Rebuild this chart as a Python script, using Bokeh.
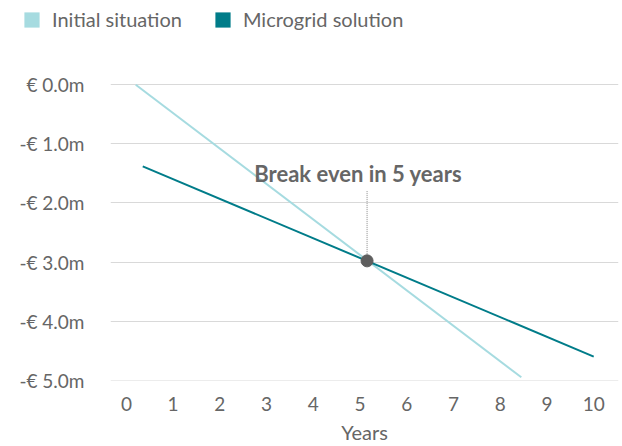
from bokeh.plotting import figure
from bokeh.layouts import column, row
from bokeh.models import Range1d, FixedTicker, Legend, LegendItem, ColumnDataSource
from bokeh.core.properties import value
from bokeh.embed import file_html
from bokeh.resources import INLINE

# Data
initial_years = [0.2, 8.45]
initial_values = [0.0, -4.95]
microgrid_years = [0.35, 10.0]
microgrid_values = [-1.38, -4.6]
breakeven_year = [5.15]
breakeven_value = [-2.98]
annotation_text = ["Break even in 5 years"]
annotation_x = [4.96]
annotation_y = [-1.5]
leader_top = [-1.8]
series_names = ["Initial situation", "Microgrid solution"]
x_ticks = list(range(0, 11))
y_ticks = [0, -1, -2, -3, -4, -5]
y_tick_labels = ["€ 0.0m", "-€ 1.0m", "-€ 2.0m", "-€ 3.0m", "-€ 4.0m", "-€ 5.0m"]

FONT = "Lato"
LIGHT = "#a6dbe0"
DARK = "#007c89"
TEXT = "#666666"

# ---- legend strip ----
lg = figure(width=622, height=40, output_backend="svg", toolbar_location=None,
            x_range=Range1d(0, 1), y_range=Range1d(0, 1),
            x_axis_type=None, y_axis_type=None,
            min_border_left=0, min_border_right=0, min_border_top=0, min_border_bottom=0)
lg.outline_line_color = None
lg.grid.visible = False
# swatch renderers kept outside the visible range: only their legend glyphs show
swatch_src = ColumnDataSource(dict(l=[5], r=[6], t=[6], b=[5]))
r1 = lg.quad(left="l", right="r", top="t", bottom="b", source=swatch_src, fill_color=LIGHT, line_color=None)
r2 = lg.quad(left="l", right="r", top="t", bottom="b", source=swatch_src, fill_color=DARK, line_color=None)
legend = Legend(items=[LegendItem(label=series_names[0], renderers=[r1]),
                       LegendItem(label=series_names[1], renderers=[r2])],
                orientation="horizontal", location=(22, 9),
                glyph_width=19, glyph_height=19, label_standoff=11, spacing=31,
                padding=0, margin=0, border_line_color=None, background_fill_alpha=0,
                label_text_font=FONT, label_text_font_size="20px", label_text_color=TEXT,
                label_height=15)
lg.add_layout(legend, "center")

# ---- main chart ----
p = figure(width=622, height=406, output_backend="svg", toolbar_location=None,
           x_range=Range1d(-0.34, 10.53), y_range=Range1d(-5.005, 0.75),
           min_border_left=110, min_border_right=4, min_border_top=0, min_border_bottom=64)
p.outline_line_color = None

p.line(initial_years, initial_values, line_color=LIGHT, line_width=2)
p.line(microgrid_years, microgrid_values, line_color=DARK, line_width=2)

p.segment(x0=breakeven_year, y0=leader_top, x1=breakeven_year, y1=breakeven_value,
          line_color="#888888", line_width=1, line_dash="1 1")
p.scatter(breakeven_year, breakeven_value, size=12, color="#5e5e5e")
p.text(x=annotation_x, y=annotation_y, text=annotation_text, text_align="center",
       text_baseline="middle", text_font=value(FONT), text_font_style="bold",
       text_font_size="22px", text_color="#666666")

p.xaxis.ticker = FixedTicker(ticks=x_ticks)
p.xaxis.axis_label = "Years"
p.xaxis.axis_line_color = None
p.xaxis.major_tick_line_color = None
p.xaxis.minor_tick_line_color = None
p.xaxis.major_tick_out = 0
p.xaxis.major_label_standoff = 16
p.xaxis.axis_label_standoff = 6
p.xaxis.major_label_text_line_height = 1.0
p.xaxis.axis_label_text_line_height = 1.0
p.xaxis.major_label_text_font = FONT
p.xaxis.major_label_text_font_size = "19px"
p.xaxis.major_label_text_color = TEXT
p.xaxis.axis_label_text_font = FONT
p.xaxis.axis_label_text_font_size = "20px"
p.xaxis.axis_label_text_font_style = "normal"
p.xaxis.axis_label_text_color = TEXT

p.yaxis.ticker = FixedTicker(ticks=y_ticks)
p.yaxis.major_label_overrides = {t: l for t, l in zip(y_ticks, y_tick_labels)}
p.yaxis.axis_line_color = None
p.yaxis.major_tick_line_color = None
p.yaxis.minor_tick_line_color = None
p.yaxis.major_tick_out = 0
p.yaxis.major_label_standoff = 26
p.yaxis.major_label_text_font = FONT
p.yaxis.major_label_text_font_size = "19px"
p.yaxis.major_label_text_color = TEXT

p.xgrid.grid_line_color = None
p.ygrid.grid_line_color = "#d9d9d9"
p.ygrid.grid_line_width = 1

layout = column(row(lg), p, spacing=0)
open("out.html", "w").write(file_html(layout, INLINE))
